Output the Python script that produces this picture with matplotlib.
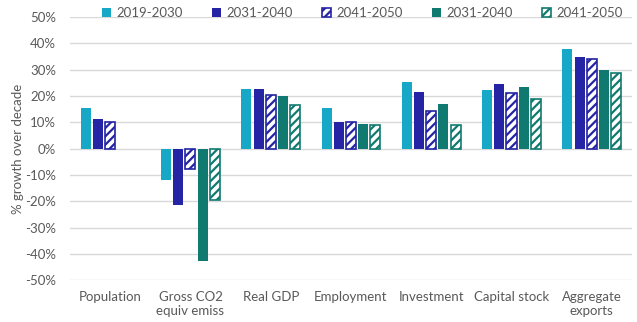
import matplotlib.pyplot as plt
import numpy as np

plt.rcParams['font.family'] = ['Lato', 'DejaVu Sans']
plt.rcParams['hatch.linewidth'] = 1.6

categories = ['Population', 'Gross CO2\nequiv emiss', 'Real GDP', 'Employment',
              'Investment', 'Capital stock', 'Aggregate\nexports']
series_names = ['2019-2030', '2031-2040', '2041-2050', '2031-2040', '2041-2050']

s2019_2030 = [15.5, -11.8, 22.5, 15.5, 25.2, 22.4, 37.8]
s2031_2040_a = [11.2, -21.4, 22.6, 10.0, 21.7, 24.6, 35.0]
s2041_2050_a = [10.0, -7.6, 20.4, 10.0, 14.4, 21.3, 34.0]
s2031_2040_b = [np.nan, -42.6, 20.0, 9.5, 16.8, 23.3, 29.8]
s2041_2050_b = [np.nan, -19.5, 16.6, 9.1, 9.1, 18.9, 28.8]

cyan = '#17a8c8'
navy = '#2424a4'
teal = '#117a70'
grey = '#595959'

series = [s2019_2030, s2031_2040_a, s2041_2050_a, s2031_2040_b, s2041_2050_b]
colours = [cyan, navy, navy, teal, teal]
hatched = [False, False, True, False, True]

fig = plt.figure(figsize=(6.37, 3.22), dpi=100)
ax = fig.add_axes([0.110, 0.130, 0.882, 0.817])

x = np.arange(len(categories))
slot = 0.152
width = 0.125
for i, (vals, c, h) in enumerate(zip(series, colours, hatched)):
    pos = x + (i - 2) * slot
    if h:
        ax.bar(pos, vals, width, facecolor='white', edgecolor=c, hatch='////',
               linewidth=1.2, label=series_names[i], zorder=3)
    else:
        ax.bar(pos, vals, width, color=c, label=series_names[i], zorder=3)

ax.set_xlim(-0.5, len(categories) - 0.5)
ax.set_ylim(-50, 50)
ax.set_yticks(np.arange(-50, 51, 10))
ax.set_yticklabels([f'{v}%' for v in range(-50, 51, 10)])
ax.yaxis.grid(True, color='#d9d9d9', linewidth=1, zorder=0)
ax.set_xticks(x)
ax.set_xticklabels(categories)
ax.tick_params(axis='both', length=0, colors=grey, labelsize=9.5)
ax.tick_params(axis='y', pad=10)
ax.tick_params(axis='x', pad=8)
for s in ax.spines.values():
    s.set_visible(False)
ax.set_ylabel('% growth over decade', color=grey, fontsize=9.5, labelpad=1)

leg = ax.legend(loc='center', bbox_to_anchor=(0.52, 1.015), ncol=5, frameon=False,
                fontsize=9.5, handlelength=0.7, handleheight=0.7,
                handletextpad=0.4, columnspacing=2.2, borderaxespad=0)
for t in leg.get_texts():
    t.set_color(grey)

fig.savefig('out.png', dpi=100)
